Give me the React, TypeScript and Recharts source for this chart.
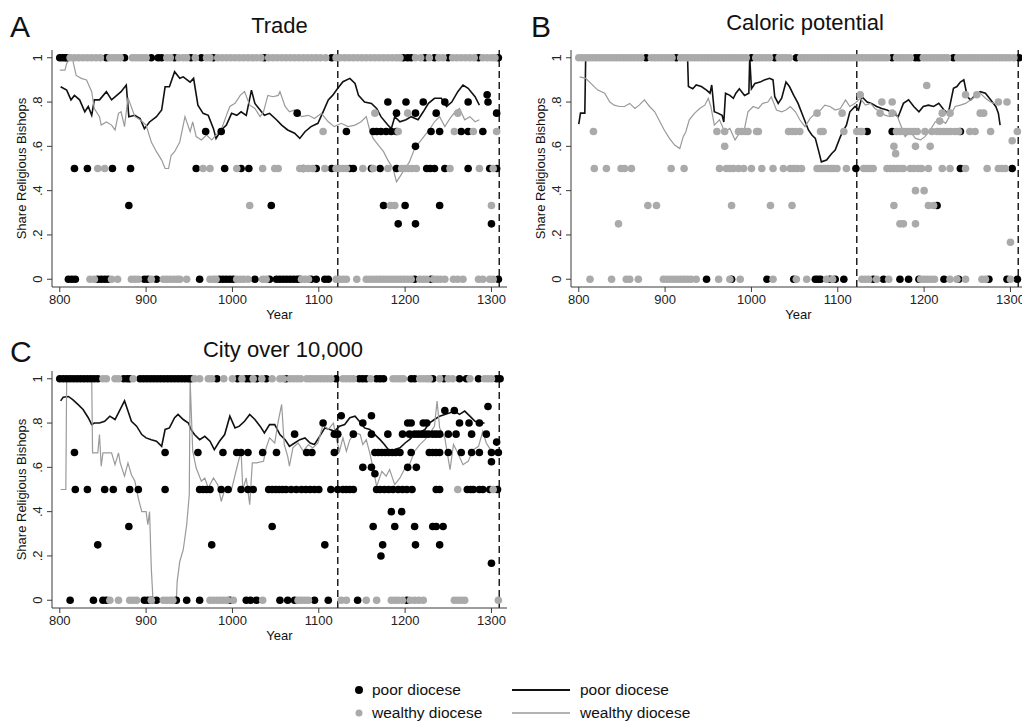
import { ComposedChart, Scatter, Line, XAxis, YAxis, ReferenceLine } from 'recharts';

type Level = [number, number[]];
type Pair = [number, number];

const FONT = '"Liberation Sans", Arial, Helvetica, sans-serif';
const POOR = '#000000';
const WEALTHY = '#aaaaaa';

const xTicks = [800, 900, 1000, 1100, 1200, 1300];
const yTicks = [0, 0.2, 0.4, 0.6, 0.8, 1];
const breaks = [1122, 1309];

// ---- A: Trade ----
const tradePoorDots: Level[] = [
  [1, [800, 803, 806, 808, 854, 875, 906, 914, 918, 933, 952, 964, 978, 1037, 1115, 1198, 1203, 1207, 1223, 1234, 1250, 1285, 1308]],
  [0.833, [1295]],
  [0.8, [1180, 1201, 1221, 1246, 1273, 1296]],
  [0.75, [1075, 1190, 1212, 1236, 1306]],
  [0.667, [969, 987, 1132, 1163, 1167, 1172, 1178, 1184, 1190, 1230, 1240, 1265, 1273, 1290]],
  [0.6, [1212]],
  [0.5, [817, 832, 861, 882, 958, 991, 1010, 1019, 1082, 1097, 1115, 1136, 1140, 1161, 1171, 1190, 1225, 1229, 1234, 1246, 1273, 1298, 1306]],
  [0.333, [880, 1045, 1175, 1200, 1240]],
  [0.25, [1192, 1212, 1300]],
  [0, [810, 814, 818, 844, 848, 852, 856, 898, 902, 912, 962, 985, 989, 993, 997, 1001, 1026, 1043, 1051, 1055, 1059, 1063, 1067, 1071, 1075, 1078, 1091, 1097, 1107, 1111, 1211, 1230, 1308]],
];
const tradeWealthyDots: Level[] = [
  [1, [812, 817, 822, 827, 832, 837, 842, 847, 858, 862, 866, 870, 884, 888, 892, 896, 900, 924, 928, 938, 943, 947, 957, 970, 974, 983, 988, 993, 998, 1003, 1008, 1013, 1018, 1023, 1028, 1033, 1042, 1047, 1052, 1057, 1062, 1067, 1072, 1077, 1082, 1087, 1092, 1097, 1102, 1108, 1120, 1125, 1130, 1135, 1140, 1145, 1150, 1155, 1160, 1165, 1170, 1175, 1180, 1185, 1190, 1194, 1212, 1218, 1228, 1239, 1244, 1255, 1260, 1265, 1270, 1275, 1280, 1290, 1295, 1300, 1304]],
  [0.75, [1165, 1203, 1261]],
  [0.667, [1105, 1192, 1257, 1279, 1306]],
  [0.5, [844, 852, 966, 974, 1005, 1035, 1049, 1053, 1078, 1083, 1088, 1093, 1107, 1120, 1124, 1128, 1132, 1151, 1163, 1180, 1196, 1200, 1204, 1208, 1213, 1252, 1286, 1302]],
  [0.333, [1020, 1183, 1188, 1300]],
  [0, [835, 840, 860, 867, 883, 887, 891, 906, 920, 924, 928, 932, 936, 939, 947, 974, 978, 981, 1005, 1009, 1013, 1018, 1035, 1039, 1080, 1084, 1088, 1120, 1124, 1128, 1132, 1144, 1155, 1159, 1163, 1167, 1171, 1175, 1179, 1183, 1187, 1191, 1195, 1199, 1203, 1207, 1217, 1221, 1225, 1233, 1237, 1241, 1246, 1256, 1261, 1267, 1285, 1290, 1298, 1302]],
];
const tradePoorLine: Pair[] = [
  [801, 0.869], [808, 0.854], [813, 0.81], [817, 0.83], [823, 0.81], [829, 0.756], [833, 0.78], [837, 0.74], [840, 0.81], [846, 0.81],
  [854, 0.847], [860, 0.81], [866, 0.83], [871, 0.847], [877, 0.877], [880, 0.734], [887, 0.74], [893, 0.726], [898, 0.68], [904, 0.71],
  [912, 0.734], [918, 0.764], [922, 0.869], [927, 0.869], [933, 0.937], [939, 0.907], [943, 0.914], [951, 0.89], [955, 0.907], [960, 0.786],
  [966, 0.749], [972, 0.74], [978, 0.68], [981, 0.636], [987, 0.674], [993, 0.696], [999, 0.749], [1005, 0.74], [1010, 0.756], [1016, 0.74],
  [1022, 0.854], [1026, 0.794], [1032, 0.764], [1037, 0.74], [1043, 0.749], [1051, 0.72], [1057, 0.696], [1064, 0.674], [1072, 0.659], [1078, 0.636],
  [1084, 0.666], [1091, 0.689], [1099, 0.704], [1105, 0.756], [1111, 0.81], [1116, 0.83], [1122, 0.862], [1128, 0.892], [1136, 0.907], [1142, 0.884],
  [1146, 0.83], [1153, 0.8], [1161, 0.794], [1167, 0.771], [1172, 0.734], [1180, 0.696], [1184, 0.68], [1188, 0.734], [1194, 0.711], [1201, 0.72],
  [1207, 0.734], [1215, 0.72], [1221, 0.756], [1227, 0.794], [1234, 0.817], [1242, 0.817], [1248, 0.78], [1254, 0.8], [1261, 0.847], [1267, 0.877],
  [1273, 0.862], [1281, 0.824], [1286, 0.786],
];
const tradeWealthyLine: Pair[] = [
  [800, 0.944], [806, 0.944], [808, 0.974], [812, 1], [815, 0.99], [819, 0.92], [825, 0.907], [831, 0.9], [837, 0.847], [840, 0.771],
  [846, 0.734], [848, 0.696], [854, 0.71], [860, 0.696], [864, 0.674], [868, 0.749], [871, 0.756], [875, 0.689], [879, 0.82], [887, 0.734],
  [893, 0.72], [900, 0.696], [906, 0.62], [912, 0.576], [918, 0.538], [922, 0.5], [926, 0.5], [929, 0.56], [933, 0.576], [939, 0.62],
  [945, 0.734], [951, 0.666], [954, 0.71], [958, 0.644], [964, 0.629], [970, 0.651], [976, 0.629], [981, 0.651], [987, 0.674], [993, 0.74],
  [997, 0.78], [1003, 0.794], [1009, 0.83], [1014, 0.847], [1020, 0.786], [1026, 0.771], [1032, 0.734], [1036, 0.756], [1041, 0.83], [1047, 0.824],
  [1053, 0.83], [1055, 0.847], [1061, 0.78], [1066, 0.756], [1072, 0.764], [1080, 0.734], [1088, 0.74], [1095, 0.726], [1103, 0.749], [1111, 0.711],
  [1118, 0.689], [1126, 0.704], [1134, 0.689], [1142, 0.696], [1149, 0.711], [1155, 0.734], [1159, 0.674], [1163, 0.636], [1169, 0.606], [1175, 0.576],
  [1180, 0.538], [1186, 0.5], [1190, 0.44], [1194, 0.463], [1200, 0.5], [1205, 0.53], [1211, 0.59], [1217, 0.62], [1223, 0.651], [1228, 0.674],
  [1234, 0.711], [1240, 0.734], [1246, 0.689], [1252, 0.726], [1258, 0.756], [1263, 0.771], [1269, 0.72], [1275, 0.734], [1281, 0.711], [1286, 0.72],
];

// ---- B: Caloric potential ----
const caloricPoorDots: Level[] = [
  [1, [878, 913, 1000, 1027, 1052, 1163, 1190, 1194, 1234, 1310]],
  [0.667, [1134, 1163, 1242]],
  [0.5, [1121, 1242, 1302]],
  [0.333, [1215]],
  [0, [948, 977, 1018, 1049, 1074, 1077, 1080, 1091, 1097, 1107, 1141, 1153, 1172, 1182, 1194, 1223, 1240, 1275, 1296, 1308]],
];
const caloricWealthyDots: Level[] = [
  [1, [800, 804, 808, 812, 816, 820, 824, 828, 832, 836, 840, 844, 848, 852, 856, 860, 864, 868, 872, 884, 888, 892, 896, 900, 904, 908, 918, 922, 926, 930, 934, 938, 942, 946, 950, 954, 958, 962, 966, 970, 974, 978, 982, 986, 990, 994, 1005, 1009, 1013, 1017, 1021, 1032, 1036, 1040, 1044, 1057, 1061, 1065, 1069, 1073, 1077, 1081, 1085, 1089, 1093, 1097, 1101, 1105, 1109, 1113, 1117, 1121, 1125, 1129, 1133, 1137, 1141, 1145, 1149, 1153, 1157, 1168, 1172, 1176, 1180, 1184, 1199, 1203, 1207, 1211, 1215, 1219, 1223, 1227, 1239, 1243, 1247, 1251, 1255, 1259, 1263, 1267, 1271, 1275, 1279, 1283, 1287, 1291, 1295, 1299, 1304]],
  [0.875, [1203]],
  [0.833, [1126, 1248, 1261]],
  [0.8, [1151, 1163, 1286, 1296]],
  [0.75, [1076, 1105, 1149, 1163, 1221, 1230, 1265, 1269]],
  [0.714, [1218]],
  [0.667, [817, 960, 969, 985, 989, 993, 996, 1006, 1008, 1043, 1047, 1051, 1056, 1080, 1083, 1107, 1122, 1126, 1128, 1168, 1172, 1176, 1180, 1184, 1188, 1192, 1201, 1209, 1215, 1219, 1223, 1227, 1231, 1236, 1240, 1253, 1259, 1277, 1308]],
  [0.625, [1302]],
  [0.6, [969, 1165, 1190, 1207]],
  [0.567, [1167]],
  [0.5, [818, 832, 849, 853, 861, 907, 922, 963, 971, 975, 979, 985, 991, 1000, 1012, 1025, 1037, 1045, 1049, 1053, 1058, 1076, 1080, 1084, 1088, 1092, 1095, 1099, 1110, 1130, 1134, 1138, 1141, 1157, 1161, 1165, 1169, 1173, 1176, 1184, 1188, 1193, 1197, 1205, 1221, 1230, 1248, 1273, 1286, 1290, 1294]],
  [0.4, [1190, 1200]],
  [0.333, [880, 890, 977, 1022, 1047, 1165, 1205, 1211]],
  [0.25, [846, 1172, 1176, 1190]],
  [0.167, [1300]],
  [0, [813, 838, 855, 859, 869, 898, 902, 906, 910, 914, 918, 922, 926, 930, 936, 962, 975, 987, 1025, 1052, 1064, 1087, 1094, 1128, 1132, 1136, 1145, 1159, 1196, 1200, 1204, 1208, 1212, 1230, 1238, 1248, 1267, 1271, 1300]],
];
const caloricPoorLine: Pair[] = [
  [800, 0.7], [802, 0.75], [807, 0.75], [808, 1], [926, 1], [927, 0.87], [932, 0.86], [936, 0.877], [942, 0.87], [948, 0.854],
  [952, 0.84], [954, 0.877], [957, 0.756], [961, 0.75], [966, 0.74], [968, 0.71], [970, 0.84], [975, 0.83], [979, 0.817], [982, 0.84],
  [986, 0.86], [992, 0.83], [997, 0.84], [998, 1], [1000, 0.86], [1004, 0.884], [1010, 0.89], [1015, 0.9], [1021, 0.907], [1025, 0.9],
  [1027, 0.824], [1031, 0.794], [1035, 0.817], [1040, 0.89], [1044, 0.87], [1049, 0.83], [1054, 0.794], [1060, 0.734], [1066, 0.674], [1070, 0.651],
  [1074, 0.636], [1078, 0.576], [1081, 0.53], [1087, 0.538], [1093, 0.568], [1097, 0.583], [1103, 0.644], [1107, 0.674], [1110, 0.696], [1114, 0.756],
  [1120, 0.78], [1124, 0.764], [1128, 0.824], [1134, 0.8], [1139, 0.794], [1145, 0.78], [1151, 0.771], [1157, 0.764], [1165, 0.749], [1170, 0.734],
  [1176, 0.794], [1182, 0.81], [1188, 0.78], [1194, 0.756], [1199, 0.78], [1205, 0.786], [1211, 0.78], [1217, 0.794], [1223, 0.764], [1228, 0.749],
  [1234, 0.862], [1238, 0.87], [1242, 0.89], [1246, 0.9], [1250, 0.824], [1254, 0.81], [1259, 0.83], [1265, 0.847], [1271, 0.84], [1277, 0.81],
  [1283, 0.78], [1286, 0.75], [1288, 0.696],
];
const caloricWealthyLine: Pair[] = [
  [801, 0.914], [808, 0.907], [814, 0.884], [822, 0.854], [830, 0.84], [836, 0.8], [841, 0.786], [847, 0.78], [853, 0.78], [859, 0.794],
  [865, 0.771], [870, 0.786], [876, 0.81], [882, 0.78], [888, 0.756], [894, 0.711], [899, 0.674], [905, 0.636], [911, 0.606], [917, 0.59],
  [921, 0.644], [924, 0.666], [928, 0.72], [934, 0.749], [940, 0.771], [946, 0.786], [950, 0.817], [953, 0.78], [957, 0.696], [963, 0.72],
  [969, 0.666], [975, 0.681], [981, 0.629], [986, 0.659], [992, 0.681], [996, 0.756], [1002, 0.78], [1008, 0.771], [1013, 0.794], [1019, 0.8],
  [1023, 0.824], [1029, 0.764], [1035, 0.756], [1040, 0.764], [1045, 0.78], [1051, 0.756], [1056, 0.72], [1062, 0.689], [1068, 0.726], [1074, 0.749],
  [1080, 0.764], [1085, 0.786], [1091, 0.78], [1097, 0.764], [1103, 0.771], [1109, 0.81], [1114, 0.78], [1120, 0.794], [1126, 0.817], [1132, 0.786],
  [1138, 0.794], [1143, 0.771], [1149, 0.756], [1155, 0.74], [1161, 0.734], [1167, 0.756], [1172, 0.704], [1178, 0.644], [1184, 0.666], [1190, 0.636],
  [1196, 0.629], [1201, 0.644], [1207, 0.674], [1213, 0.711], [1219, 0.72], [1225, 0.704], [1230, 0.74], [1236, 0.78], [1242, 0.786], [1248, 0.794],
  [1254, 0.81], [1259, 0.824], [1265, 0.84], [1271, 0.817], [1277, 0.8], [1281, 0.794],
];

// ---- C: City over 10,000 ----
const cityPoorDots: Level[] = [
  [1, [800, 804, 808, 812, 816, 820, 824, 828, 832, 836, 840, 844, 874, 878, 881, 893, 897, 901, 905, 909, 913, 917, 921, 925, 929, 933, 937, 941, 945, 949, 952, 982, 1006, 1016, 1020, 1028, 1039, 1062, 1120, 1147, 1151, 1155, 1167, 1171, 1175, 1207, 1211, 1232, 1245, 1263, 1271, 1285, 1306, 1310]],
  [0.875, [1296]],
  [0.857, [1246, 1257]],
  [0.833, [1126, 1161]],
  [0.8, [1105, 1151, 1203, 1207, 1221, 1225, 1263, 1274, 1286]],
  [0.75, [1072, 1118, 1122, 1140, 1161, 1180, 1197, 1205, 1211, 1215, 1219, 1223, 1227, 1232, 1236, 1240, 1250, 1259, 1277, 1294]],
  [0.714, [1306]],
  [0.667, [817, 922, 960, 989, 1005, 1010, 1018, 1035, 1051, 1086, 1092, 1118, 1165, 1169, 1173, 1177, 1181, 1185, 1189, 1194, 1207, 1228, 1232, 1236, 1240, 1250, 1265, 1277, 1286, 1300, 1308]],
  [0.625, [1300]],
  [0.6, [1151, 1161, 1203, 1213]],
  [0.571, [1165]],
  [0.5, [818, 832, 852, 862, 881, 891, 922, 962, 966, 970, 974, 987, 995, 1010, 1018, 1024, 1042, 1046, 1050, 1054, 1058, 1062, 1068, 1074, 1080, 1085, 1090, 1095, 1100, 1114, 1122, 1128, 1132, 1136, 1140, 1167, 1171, 1176, 1181, 1186, 1192, 1197, 1202, 1208, 1236, 1240, 1272, 1276, 1279, 1286, 1290, 1298, 1307]],
  [0.4, [1184, 1196]],
  [0.333, [880, 1046, 1163, 1188, 1211, 1232, 1236, 1244]],
  [0.25, [844, 976, 1107, 1174, 1212, 1240]],
  [0.2, [1172]],
  [0.167, [1300]],
  [0, [812, 839, 850, 854, 898, 902, 906, 912, 935, 947, 962, 997, 1016, 1021, 1028, 1055, 1064, 1072, 1095, 1111, 1145, 1202]],
];
const cityWealthyDots: Level[] = [
  [1, [850, 854, 864, 868, 885, 956, 962, 972, 976, 990, 1000, 1011, 1024, 1034, 1046, 1055, 1059, 1067, 1071, 1075, 1079, 1086, 1090, 1094, 1098, 1102, 1106, 1110, 1114, 1128, 1132, 1136, 1140, 1160, 1186, 1190, 1194, 1198, 1217, 1221, 1225, 1228, 1240, 1250, 1255, 1275, 1292, 1296, 1300]],
  [0.5, [1261, 1302]],
  [0, [858, 868, 881, 885, 889, 906, 920, 924, 928, 931, 974, 978, 982, 986, 990, 994, 1001, 1035, 1076, 1080, 1084, 1088, 1126, 1132, 1155, 1167, 1184, 1188, 1192, 1197, 1206, 1211, 1216, 1221, 1257, 1261, 1265, 1269, 1308]],
];
const cityPoorLine: Pair[] = [
  [801, 0.9], [804, 0.917], [810, 0.92], [815, 0.906], [821, 0.884], [827, 0.861], [833, 0.824], [837, 0.793], [840, 0.8], [846, 0.8],
  [852, 0.808], [858, 0.831], [864, 0.816], [869, 0.854], [875, 0.9], [879, 0.854], [883, 0.808], [889, 0.786], [895, 0.748], [900, 0.733],
  [906, 0.725], [912, 0.718], [918, 0.695], [922, 0.771], [927, 0.778], [933, 0.824], [937, 0.839], [943, 0.816], [949, 0.8], [952, 0.771],
  [956, 0.748], [962, 0.725], [968, 0.74], [974, 0.718], [979, 0.68], [985, 0.718], [991, 0.748], [997, 0.831], [1003, 0.778], [1008, 0.786],
  [1014, 0.808], [1020, 0.839], [1026, 0.816], [1032, 0.786], [1037, 0.755], [1043, 0.793], [1049, 0.793], [1055, 0.748], [1061, 0.725], [1066, 0.695],
  [1072, 0.71], [1078, 0.725], [1084, 0.733], [1090, 0.71], [1095, 0.703], [1101, 0.74], [1107, 0.778], [1113, 0.771], [1118, 0.763], [1124, 0.786],
  [1130, 0.793], [1136, 0.824], [1142, 0.831], [1147, 0.808], [1153, 0.778], [1159, 0.771], [1165, 0.748], [1171, 0.725], [1176, 0.703], [1182, 0.673],
  [1188, 0.68], [1194, 0.688], [1200, 0.71], [1205, 0.725], [1211, 0.748], [1217, 0.756], [1223, 0.771], [1228, 0.8], [1234, 0.816], [1240, 0.831],
  [1246, 0.839], [1252, 0.846], [1257, 0.854], [1263, 0.839], [1269, 0.854], [1275, 0.831], [1281, 0.808], [1286, 0.8], [1292, 0.8],
];
const cityWealthyLine: Pair[] = [
  [801, 0.5], [807, 0.5], [808, 1], [837, 1], [838, 0.665], [844, 0.665], [846, 0.748], [848, 0.605], [850, 0.665], [860, 0.665],
  [864, 0.612], [868, 0.665], [870, 0.62], [875, 0.56], [879, 0.62], [883, 0.567], [887, 0.537], [891, 0.46], [895, 0.4], [900, 0.4],
  [902, 0.341], [904, 0.4], [906, 0.145], [908, 0], [935, 0], [936, 0.085], [939, 0.175], [943, 0.228], [947, 0.341], [950, 0.477],
  [951, 0.99], [954, 0.673], [958, 0.597], [964, 0.537], [968, 0.552], [972, 0.507], [978, 0.552], [983, 0.522], [987, 0.446], [991, 0.5],
  [999, 0.5], [1005, 0.597], [1010, 0.673], [1012, 0.5], [1016, 0.552], [1020, 0.431], [1023, 0.62], [1028, 0.62], [1036, 0.627], [1039, 0.688],
  [1043, 0.733], [1049, 0.71], [1053, 0.808], [1057, 0.884], [1060, 0.703], [1064, 0.65], [1066, 0.605], [1070, 0.688], [1076, 0.71], [1082, 0.673],
  [1088, 0.703], [1093, 0.688], [1099, 0.71], [1105, 0.793], [1111, 0.771], [1117, 0.8], [1120, 0.733], [1124, 0.673], [1128, 0.733], [1132, 0.673],
  [1136, 0.725], [1142, 0.756], [1148, 0.748], [1151, 0.703], [1155, 0.725], [1159, 0.665], [1163, 0.597], [1167, 0.514], [1173, 0.582], [1178, 0.56],
  [1182, 0.59], [1188, 0.522], [1194, 0.552], [1200, 0.597], [1205, 0.612], [1211, 0.673], [1217, 0.703], [1223, 0.725], [1229, 0.756], [1234, 0.786],
  [1237, 0.899], [1240, 0.778], [1246, 0.733], [1252, 0.59], [1256, 0.703], [1261, 0.665], [1267, 0.612], [1273, 0.627], [1279, 0.68], [1285, 0.695],
  [1290, 0.763], [1294, 0.71], [1300, 0.673],
];

const toPoints = (levels: Level[]) => levels.flatMap(([v, years]) => years.map((x) => ({ x, y: v })));
const toLine = (pairs: Pair[]) => pairs.map(([x, y]) => ({ x, y }));

const fmtY = (v: number) => (v === 0 ? '0' : v === 1 ? '1' : String(v).replace(/^0/, ''));

function YTick({ y, payload }: any) {
  return (
    <text x={42} y={y} transform={`rotate(-90 42 ${y})`} textAnchor="middle" fontSize={13} fill="#222" fontFamily={FONT}>
      {fmtY(payload.value)}
    </text>
  );
}

const poorDot = (p: any) => <circle cx={p.cx} cy={p.cy} r={3.8} fill={POOR} />;
const wealthyDot = (p: any) => <circle cx={p.cx} cy={p.cy} r={3.8} fill={WEALTHY} />;

function Panel({
  left, top, poorDots, wealthyDots, poorLine, wealthyLine,
}: {
  left: number;
  top: number;
  poorDots: Level[];
  wealthyDots: Level[];
  poorLine: Pair[];
  wealthyLine: Pair[];
}) {
  return (
    <div style={{ position: 'absolute', left, top }}>
      <ComposedChart width={520} height={330} margin={{ top: 50, right: 13, left: 0, bottom: 0 }}>
        <XAxis
          type="number" dataKey="x" domain={[791, 1318]} ticks={xTicks} allowDataOverflow
          height={43} tickSize={5} tickMargin={3} stroke="#3a3a3a"
          tick={{ fill: '#222', fontSize: 13, fontFamily: FONT }}
        />
        <YAxis
          type="number" dataKey="y" domain={[-0.035, 1.035]} ticks={yTicks} allowDataOverflow
          width={52} tickSize={5} stroke="#3a3a3a" tick={<YTick />}
        />
        <Scatter data={toPoints(poorDots)} shape={poorDot} isAnimationActive={false} />
        <Line data={toLine(poorLine)} dataKey="y" type="linear" stroke="#111" strokeWidth={1.6} dot={false} isAnimationActive={false} />
        <Scatter data={toPoints(wealthyDots)} shape={wealthyDot} isAnimationActive={false} />
        <Line data={toLine(wealthyLine)} dataKey="y" type="linear" stroke="#9a9a9a" strokeWidth={1.2} dot={false} isAnimationActive={false} />
        {breaks.map((b) => (
          <ReferenceLine key={b} x={b} stroke="#111" strokeWidth={1.4} strokeDasharray="7 4" />
        ))}
      </ComposedChart>
    </div>
  );
}

function Labels() {
  const t = { fontFamily: FONT, fill: '#111' } as const;
  const yLabel = (x: number, y: number) => (
    <text x={x} y={y} transform={`rotate(-90 ${x} ${y})`} textAnchor="middle" fontSize={13} {...t}>
      Share Religious Bishops
    </text>
  );
  return (
    <svg width={1022} height={722} style={{ position: 'absolute', left: 0, top: 0, pointerEvents: 'none' }}>
      <text x={10} y={37} fontSize={30} {...t}>A</text>
      <text x={279.5} y={33} fontSize={22} textAnchor="middle" {...t}>Trade</text>
      <text x={531} y={37} fontSize={30} {...t}>B</text>
      <text x={805} y={30} fontSize={22} textAnchor="middle" {...t}>Caloric potential</text>
      <text x={10} y={362} fontSize={30} {...t}>C</text>
      <text x={283} y={357} fontSize={22} textAnchor="middle" {...t}>City over 10,000</text>
      {yLabel(25.5, 168.5)}
      {yLabel(544.5, 168.5)}
      {yLabel(25.5, 489.5)}
      <text x={279.5} y={318.5} fontSize={13} textAnchor="middle" {...t}>Year</text>
      <text x={798.5} y={318.5} fontSize={13} textAnchor="middle" {...t}>Year</text>
      <text x={279.5} y={639.5} fontSize={13} textAnchor="middle" {...t}>Year</text>

      <circle cx={359} cy={690} r={4} fill={POOR} />
      <text x={372} y={695} fontSize={15.5} {...t}>poor diocese</text>
      <circle cx={359} cy={713} r={3.5} fill={WEALTHY} />
      <text x={372} y={718} fontSize={15.5} {...t}>wealthy diocese</text>
      <line x1={512} x2={570} y1={690} y2={690} stroke="#111" strokeWidth={2} />
      <text x={580} y={695} fontSize={15.5} {...t}>poor diocese</text>
      <line x1={512} x2={570} y1={713} y2={713} stroke="#9a9a9a" strokeWidth={1.5} />
      <text x={580} y={718} fontSize={15.5} {...t}>wealthy diocese</text>
    </svg>
  );
}

export default function App() {
  return (
    <div style={{ position: 'absolute', left: 0, top: 0, width: 1022, height: 722, overflow: 'hidden', background: '#fff' }}>
      <Panel left={0} top={0} poorDots={tradePoorDots} wealthyDots={tradeWealthyDots} poorLine={tradePoorLine} wealthyLine={tradeWealthyLine} />
      <Panel left={519} top={0} poorDots={caloricPoorDots} wealthyDots={caloricWealthyDots} poorLine={caloricPoorLine} wealthyLine={caloricWealthyLine} />
      <Panel left={0} top={321} poorDots={cityPoorDots} wealthyDots={cityWealthyDots} poorLine={cityPoorLine} wealthyLine={cityWealthyLine} />
      <Labels />
    </div>
  );
}
